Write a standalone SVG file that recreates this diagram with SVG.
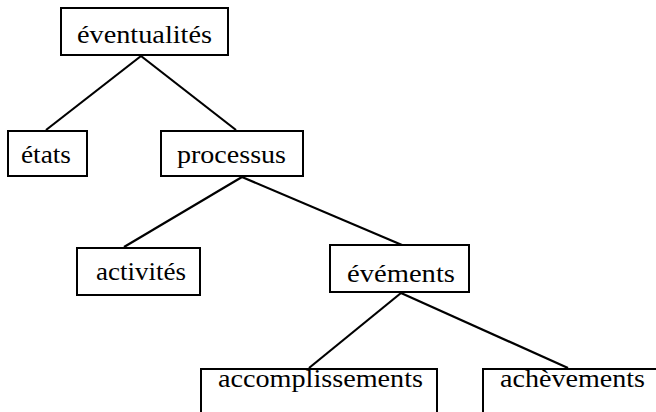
<svg xmlns="http://www.w3.org/2000/svg" width="656" height="412" viewBox="0 0 656 412">
<style>
rect{fill:#fff;stroke:#000;stroke-width:2}
line{stroke:#000;stroke-width:2.2}
text{font-family:"Liberation Serif","Times New Roman",serif;font-size:25px;fill:#000}
</style>
<rect x="0" y="0" width="656" height="412" style="stroke:none"/>
<g id="connectors">
<line x1="141" y1="56" x2="46" y2="130"/>
<line x1="141" y1="56" x2="236" y2="130"/>
<line x1="242" y1="177" x2="124" y2="247"/>
<line x1="242" y1="177" x2="402" y2="245"/>
<line x1="401" y1="293" x2="309" y2="368"/>
<line x1="401" y1="293" x2="568" y2="368"/>
</g>
<g id="n-eventualites"><rect x="61" y="8" width="167" height="47"/><text x="77" y="43" textLength="135" lengthAdjust="spacingAndGlyphs">éventualités</text></g>
<g id="n-etats"><rect x="8" y="131" width="79" height="45"/><text x="21" y="163" textLength="50" lengthAdjust="spacingAndGlyphs">états</text></g>
<g id="n-processus"><rect x="161" y="131" width="142" height="45"/><text x="177" y="163" textLength="109" lengthAdjust="spacingAndGlyphs">processus</text></g>
<g id="n-activites"><rect x="77" y="248" width="123" height="47"/><text x="96" y="280" textLength="90" lengthAdjust="spacingAndGlyphs">activités</text></g>
<g id="n-evements"><rect x="330" y="245" width="139" height="47"/><text x="347" y="282" textLength="108" lengthAdjust="spacingAndGlyphs">évéments</text></g>
<g id="n-accomplissements"><rect x="201" y="369" width="236" height="60"/><text x="218" y="387" textLength="205" lengthAdjust="spacingAndGlyphs">accomplissements</text></g>
<g id="n-achevements"><rect x="483" y="369" width="190" height="60"/><text x="500" y="387" textLength="145" lengthAdjust="spacingAndGlyphs">achèvements</text></g>
</svg>
